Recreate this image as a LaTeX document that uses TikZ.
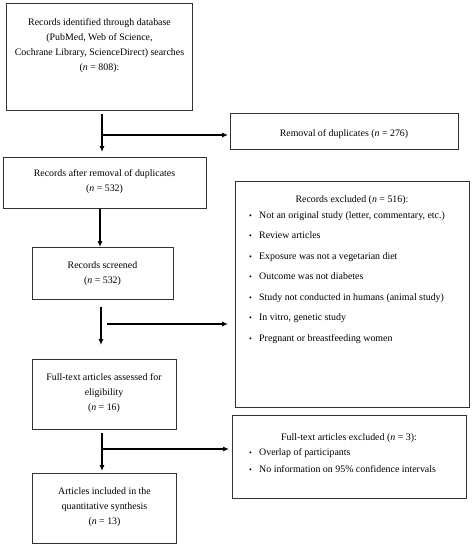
\documentclass[tikz,border=0pt]{standalone}
\usepackage{fontspec}
\setmainfont{Liberation Serif}
\usetikzlibrary{arrows.meta}
\begin{document}
\begin{tikzpicture}[x=1pt,y=-1pt,
  box/.style={draw=black!80,line width=0.8pt,inner sep=0pt,anchor=north west},
  txt/.style={inner sep=0pt,anchor=north,align=center,font=\fontsize{9.9}{15}\selectfont},
  lst/.style={inner sep=0pt,anchor=north west,align=left,font=\fontsize{9.9}{20.5}\selectfont},
  arr/.style={line width=1.1pt,-{Latex[length=6pt,width=5pt]}},
  ln/.style={line width=1.1pt}]
\useasboundingbox (0,0) rectangle (473,550);
\newcommand{\bul}{\makebox[10pt][l]{\raisebox{0pt}{\footnotesize\textbullet}}}
% boxes
\node[box,minimum width=186pt,minimum height=107pt] (b1) at (6,3) {};
\node[box,minimum width=228pt,minimum height=36pt] (rem) at (230,113) {};
\node[box,minimum width=203pt,minimum height=51pt] (b2) at (3,157) {};
\node[box,minimum width=141pt,minimum height=52pt] (b3) at (32,247) {};
\node[box,minimum width=234pt,minimum height=226pt] (exc) at (235,181) {};
\node[box,minimum width=144pt,minimum height=70pt] (b4) at (32,359) {};
\node[box,minimum width=234pt,minimum height=83pt] (fte) at (232,415) {};
\node[box,minimum width=144pt,minimum height=70pt] (b5) at (32,473) {};
% texts
\node[txt] (t1) at (99.5,18) {Records identified through database\\(PubMed, Web of Science,\\Cochrane Library, ScienceDirect) searches\\(\textit{n} = 808):};
\node[txt] (tr) at (344,129) {Removal of duplicates (\textit{n} = 276)};
\node[txt] (t2) at (104.5,169.5) {Records after removal of duplicates\\(\textit{n} = 532)};
\node[txt] (t3) at (102.5,261.5) {Records screened\\(\textit{n} = 532)};
\node[txt] (te) at (352,195) {Records excluded (\textit{n} = 516):};
\node[lst] (le) at (249,211) {\bul Not an original study (letter, commentary, etc.)\\
\bul Review articles\\
\bul Exposure was not a vegetarian diet\\
\bul Outcome was not diabetes\\
\bul Study not conducted in humans (animal study)\\
\bul In vitro, genetic study\\
\bul Pregnant or breastfeeding women};
\node[txt] (t4) at (104,373.5) {Full-text articles assessed for\\eligibility\\(\textit{n} = 16)};
\node[txt] (tf) at (349,433) {Full-text articles excluded (\textit{n} = 3):};
\node[lst,font=\fontsize{9.9}{17}\selectfont] (lf) at (249,448) {\bul Overlap of participants\\
\bul No information on 95\% confidence intervals};
\node[txt] (t5) at (104.5,487.5) {Articles included in the\\quantitative synthesis\\(\textit{n} = 13)};
% connectors
\coordinate (j1) at (102,135);
\coordinate (j2) at (101,324);
\coordinate (j3) at (102,449);
\draw[arr,shorten <=3pt,shorten >=5pt] (j1 |- b1.south) -- (j1 |- b2.north);
\draw[arr,shorten >=2pt] (j1) -- (j1 -| rem.west);
\draw[arr] (b2.south -| 100,0) -- (b3.north -| 100,0);
\draw[arr,shorten <=7pt,shorten >=14pt] (j2 |- b3.south) -- (j2 |- b4.north);
\draw[arr,shorten <=3pt,shorten >=7pt] ([xshift=3pt]j2) -- (j2 -| exc.west);
\draw[arr,shorten <=3pt,shorten >=2pt] (j3 |- b4.south) -- (j3 |- b5.north);
\draw[arr,shorten >=3pt] (j3) -- (j3 -| fte.west);
\end{tikzpicture}
\end{document}
